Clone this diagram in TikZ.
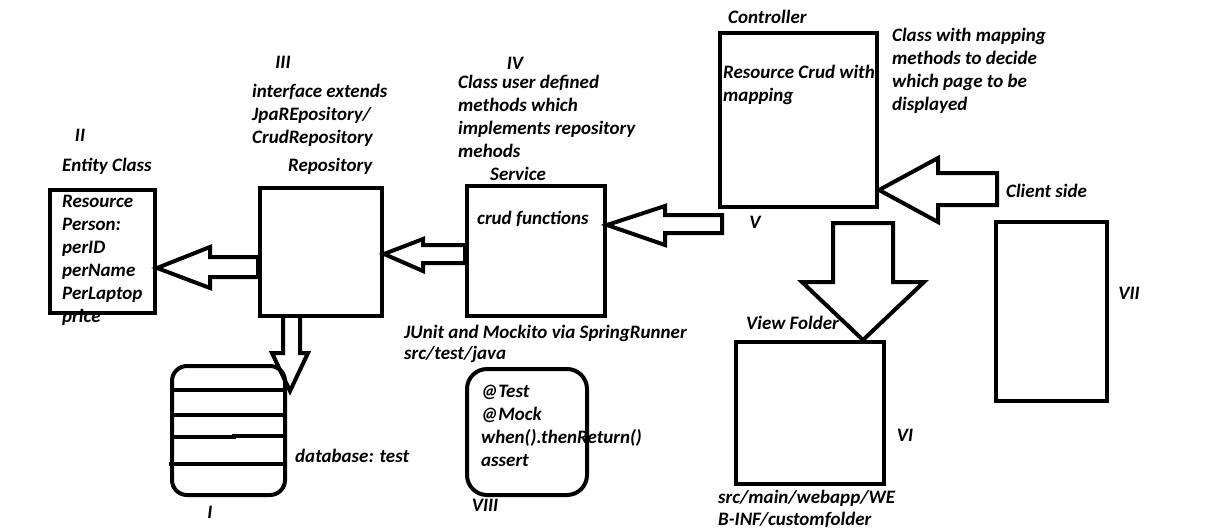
\documentclass[tikz,border=0pt]{standalone}
\usepackage{fontspec}
\setmainfont{Carlito}
\usetikzlibrary{calc}

\tikzset{
  box/.style={draw, line width=4pt, minimum width=#1, inner sep=0pt},
  lbl/.style={inner sep=0pt, align=left, font=\fontsize{19}{23}\selectfont\bfseries\itshape},
  hollow/.style={draw, line width=4pt, line join=miter},
}

\begin{document}
\begin{tikzpicture}[x=1pt,y=-1pt]
\useasboundingbox (0,0) rectangle (1210,531);

% boxes
\node[box=105pt, minimum height=123pt] (entity) at (102.5,251) {};
\node[box=122pt, minimum height=128pt] (repo) at (321,252) {};
\node[box=138pt, minimum height=130pt] (service) at (536,251) {};
\node[box=157pt, minimum height=174pt] (ctrl) at (798.5,120) {};
\node[box=148pt, minimum height=142pt] (view) at (810,413) {};
\node[box=111pt, minimum height=179pt] (client) at (1051.5,311.5) {};
\node[box=113pt, minimum height=129pt, rounded corners=15pt] (db) at (228.5,430.5) {};
\node[box=120pt, minimum height=126pt, rounded corners=20pt] (test) at (527,432) {};

% database rows
\draw[line width=4pt] (db.west |- 0,390) -- (287,390);
\draw[line width=4pt] (db.west |- 0,415) -- (287,415);
\draw[line width=4pt] (db.west |- 0,437) -- (234,437) -- (234,436) -- (285,436);
\draw[line width=4pt] (169,464) -- (db.east |- 0,464);

% hollow arrows
\draw[hollow] (entity.east |- 0,268) -- (210,247) -- (210,257) -- (repo.west |- 0,257)
  -- (repo.west |- 0,277) -- (210,277) -- (210,288) -- cycle;
\draw[hollow] (repo.east |- 0,254) -- (423,239) -- (423,245) -- (service.west |- 0,245)
  -- (service.west |- 0,263) -- (423,263) -- (423,271) -- cycle;
\draw[hollow] (service.east |- 0,225) -- (665,206) -- (665,215) -- (722,215)
  -- (722,233) -- (665,233) -- (665,245) -- cycle;
\draw[hollow] (ctrl.east |- 0,190) -- (938,158) -- (938,173) -- (997,173)
  -- (997,205) -- (938,205) -- (938,222) -- cycle;
\draw[hollow] (833,223) -- (893,223) -- (893,282) -- (924,282) -- (863,0 |- view.north)
  -- (802,282) -- (833,282) -- cycle;
\draw[hollow] (283,0 |- repo.south) -- (283,353) -- (272,353) -- (290,391)
  -- (308,353) -- (300,353) -- (300,0 |- repo.south);

% labels
\node[lbl] (n2) at (80,135) {II};
\node[lbl, anchor=west] (entitytitle) at (62,166) {Entity Class};
\node[lbl, anchor=west] (entitytext) at (62,260.5) {Resource\\Person:\\perID\\perName\\PerLaptop\\price};
\node[lbl] (n3) at (283,62) {III};
\node[lbl, anchor=west] (repotext) at (252,115) {interface extends\\JpaREpository/\\CrudRepository};
\node[lbl, anchor=west] (repotitle) at (288,166) {Repository};
\node[lbl] (n4) at (515,63) {IV};
\node[lbl, anchor=west] (servicetext) at (458,116) {Class user defined\\methods which\\implements repository\\mehods};
\node[lbl, anchor=west] (servicetitle) at (490,174) {Service};
\node[lbl, anchor=west] (crud) at (477,219) {crud functions};
\node[lbl, anchor=west] (ctrltitle) at (728,17) {Controller};
\node[lbl, anchor=west] (ctrltext) at (723,84.5) {Resource Crud with\\mapping};
\node[lbl, anchor=west] (ctrlnote) at (892,70.5) {Class with mapping\\methods to decide\\which page to be\\displayed};
\node[lbl] (n5) at (755,222) {V};
\node[lbl, anchor=west] (clienttitle) at (1006,191) {Client side};
\node[lbl] (n7) at (1129,293) {VII};
\node[lbl, anchor=west] (viewtitle) at (746,323) {View Folder};
\node[lbl] (n6) at (905,435) {VI};
\node[lbl, anchor=west] (viewpath) at (718,509) {src/main/webapp/WE\\[-1pt]B-INF/customfolder};
\node[lbl, anchor=west] (dbtitle) at (295,456) {database: test};
\node[lbl] (n1) at (210,512) {I};
\node[lbl, anchor=west] (junit) at (404,343.5) {JUnit and Mockito via SpringRunner\\[-2pt]src/test/java};
\node[lbl, anchor=west] (testtext) at (481,426) {@Test\\@Mock\\when().thenReturn()\\assert};
\node[lbl] (n8) at (485,505) {VIII};

\end{tikzpicture}
\end{document}
